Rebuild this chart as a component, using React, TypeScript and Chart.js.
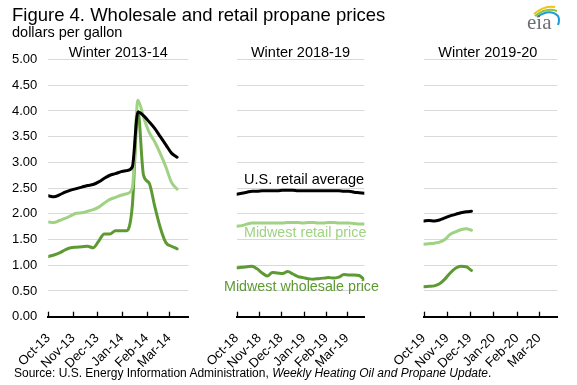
import React, { useEffect, useRef } from "react";
import { Chart, registerables } from "chart.js";

Chart.register(...registerables);

const FONT = '"Liberation Sans", Arial, Helvetica, sans-serif';
const BLACK = "#000000";
const LIGHT_GREEN = "#9fd283";
const DARK_GREEN = "#5e9a33";
const GRID = "#d9d9d9";

// ---------- Data: Winter 2013-14 ----------
const weeks1314 = [
  "2013-10-07", "2013-10-14", "2013-10-21", "2013-10-28",
  "2013-11-04", "2013-11-11", "2013-11-18", "2013-11-25",
  "2013-12-02", "2013-12-09", "2013-12-16", "2013-12-23", "2013-12-30",
  "2014-01-06", "2014-01-13", "2014-01-20", "2014-01-27",
  "2014-02-03", "2014-02-10", "2014-02-17", "2014-02-24",
  "2014-03-03", "2014-03-10", "2014-03-17",
];
const usRetail1314 = [2.35, 2.33, 2.37, 2.42, 2.46, 2.49, 2.52, 2.55, 2.57, 2.62, 2.69, 2.75, 2.78, 2.82, 2.84, 2.91, 3.98, 3.91, 3.79, 3.66, 3.5, 3.34, 3.18, 3.1];
const mwRetail1314 = [1.84, 1.83, 1.87, 1.91, 1.96, 2.01, 2.02, 2.05, 2.08, 2.13, 2.21, 2.28, 2.32, 2.36, 2.39, 2.5, 4.21, 3.88, 3.59, 3.4, 3.17, 2.91, 2.61, 2.48];
const mwWholesale1314 = [1.17, 1.2, 1.24, 1.3, 1.34, 1.35, 1.36, 1.37, 1.34, 1.47, 1.61, 1.61, 1.67, 1.67, 1.67, 2.15, 4.0, 2.75, 2.6, 2.15, 1.73, 1.44, 1.37, 1.32];
const tickDates1314 = ["2013-10-07", "2013-11-07", "2013-12-07", "2014-01-07", "2014-02-07", "2014-03-07"];
const tickLabels1314 = ["Oct-13", "Nov-13", "Dec-13", "Jan-14", "Feb-14", "Mar-14"];

// ---------- Data: Winter 2018-19 ----------
const weeks1819 = [
  "2018-10-01", "2018-10-08", "2018-10-15", "2018-10-22", "2018-10-29",
  "2018-11-05", "2018-11-12", "2018-11-19", "2018-11-26",
  "2018-12-03", "2018-12-10", "2018-12-17", "2018-12-24", "2018-12-31",
  "2019-01-07", "2019-01-14", "2019-01-21", "2019-01-28",
  "2019-02-04", "2019-02-11", "2019-02-18", "2019-02-25",
  "2019-03-04", "2019-03-11", "2019-03-18", "2019-03-25",
];
const usRetail1819 = [2.38, 2.4, 2.42, 2.44, 2.44, 2.45, 2.45, 2.45, 2.45, 2.46, 2.46, 2.46, 2.45, 2.45, 2.45, 2.45, 2.45, 2.45, 2.45, 2.45, 2.45, 2.44, 2.44, 2.42, 2.41, 2.4];
const mwRetail1819 = [1.76, 1.77, 1.8, 1.82, 1.82, 1.82, 1.82, 1.82, 1.82, 1.82, 1.83, 1.83, 1.83, 1.82, 1.83, 1.83, 1.82, 1.82, 1.83, 1.83, 1.82, 1.82, 1.82, 1.81, 1.8, 1.8];
const mwWholesale1819 = [0.95, 0.96, 0.97, 0.98, 0.93, 0.85, 0.79, 0.86, 0.85, 0.84, 0.88, 0.83, 0.78, 0.76, 0.74, 0.73, 0.74, 0.75, 0.76, 0.75, 0.77, 0.82, 0.81, 0.81, 0.8, 0.72];
const tickDates1819 = ["2018-10-01", "2018-11-01", "2018-12-01", "2019-01-01", "2019-02-01", "2019-03-01"];
const tickLabels1819 = ["Oct-18", "Nov-18", "Dec-18", "Jan-19", "Feb-19", "Mar-19"];

// ---------- Data: Winter 2019-20 ----------
const weeks1920 = [
  "2019-10-07", "2019-10-14", "2019-10-21", "2019-10-28",
  "2019-11-04", "2019-11-11", "2019-11-18", "2019-11-25",
  "2019-12-02", "2019-12-09",
];
const usRetail1920 = [1.86, 1.87, 1.86, 1.88, 1.92, 1.96, 1.99, 2.02, 2.04, 2.05];
const mwRetail1920 = [1.41, 1.42, 1.43, 1.45, 1.5, 1.6, 1.65, 1.69, 1.71, 1.68];
const mwWholesale1920 = [0.58, 0.59, 0.6, 0.64, 0.73, 0.85, 0.94, 0.98, 0.97, 0.9];
const tickDates1920 = ["2019-10-07", "2019-11-07", "2019-12-07", "2020-01-07", "2020-02-07", "2020-03-07"];
const tickLabels1920 = ["Oct-19", "Nov-19", "Dec-19", "Jan-20", "Feb-20", "Mar-20"];

const yTicks = [0, 0.5, 1, 1.5, 2, 2.5, 3, 3.5, 4, 4.5, 5];

type Panel = {
  title: string;
  start: string;
  end: string;
  weeks: string[];
  us: number[];
  mwRetail: number[];
  mwWholesale: number[];
  tickDates: string[];
  tickLabels: string[];
  canvasLeft: number;
  canvasWidth: number;
  areaLeft: number;
  areaRight: number;
  showY: boolean;
};

const panels: Panel[] = [
  {
    title: "Winter 2013-14", start: "2013-10-07", end: "2014-03-31",
    weeks: weeks1314, us: usRetail1314, mwRetail: mwRetail1314, mwWholesale: mwWholesale1314,
    tickDates: tickDates1314, tickLabels: tickLabels1314,
    canvasLeft: 0, canvasWidth: 200, areaLeft: 48.3, areaRight: 188.3, showY: true,
  },
  {
    title: "Winter 2018-19", start: "2018-10-01", end: "2019-03-25",
    weeks: weeks1819, us: usRetail1819, mwRetail: mwRetail1819, mwWholesale: mwWholesale1819,
    tickDates: tickDates1819, tickLabels: tickLabels1819,
    canvasLeft: 200, canvasWidth: 190, areaLeft: 236.7, areaRight: 364.3, showY: false,
  },
  {
    title: "Winter 2019-20", start: "2019-10-07", end: "2020-03-31",
    weeks: weeks1920, us: usRetail1920, mwRetail: mwRetail1920, mwWholesale: mwWholesale1920,
    tickDates: tickDates1920, tickLabels: tickLabels1920,
    canvasLeft: 390, canvasWidth: 187, areaLeft: 418.3, areaRight: 557.3, showY: false,
  },
];

const H = 385;
const AREA_TOP = 59.5;
const AREA_BOTTOM = 316.7;

const dayOf = (d: string, start: string) => (Date.parse(d) - Date.parse(start)) / 86400000;

const innerTicks = {
  id: "innerTicks",
  afterDraw(chart: any) {
    const xs = chart.scales.x;
    const ctx = chart.ctx;
    const bottom = chart.chartArea.bottom;
    ctx.save();
    ctx.strokeStyle = "#000";
    ctx.lineWidth = 1.3;
    xs.ticks.forEach((t: any) => {
      const x = Math.round(xs.getPixelForValue(t.value)) + 0.5;
      ctx.beginPath();
      ctx.moveTo(x, bottom);
      ctx.lineTo(x, bottom - 5);
      ctx.stroke();
    });
    ctx.restore();
  },
};

function PanelChart({ p }: { p: Panel }) {
  const ref = useRef<HTMLCanvasElement | null>(null);
  useEffect(() => {
    if (!ref.current) return;
    const toPts = (vals: number[]) => vals.map((v, i) => ({ x: dayOf(p.weeks[i], p.start), y: v }));
    const tickDays = p.tickDates.map((d) => dayOf(d, p.start));
    const endDay = dayOf(p.end, p.start);
    const ds = (label: string, vals: number[], color: string) => ({
      label,
      data: toPts(vals),
      borderColor: color,
      backgroundColor: color,
      borderWidth: 3,
      pointRadius: 0,
      fill: false,
      cubicInterpolationMode: "monotone" as const,
      borderCapStyle: "round" as const,
      borderJoinStyle: "round" as const,
    });
    const chart = new Chart(ref.current, {
      type: "line",
      data: {
        datasets: [
          ds("U.S. retail average", p.us, BLACK),
          ds("Midwest retail price", p.mwRetail, LIGHT_GREEN),
          ds("Midwest wholesale price", p.mwWholesale, DARK_GREEN),
        ],
      },
      options: {
        animation: false,
        responsive: false,
        maintainAspectRatio: false,
        devicePixelRatio: 1,
        events: [],
        layout: {
          padding: {
            left: p.showY ? 0 : p.areaLeft - p.canvasLeft,
            right: p.canvasLeft + p.canvasWidth - p.areaRight,
            top: AREA_TOP,
            bottom: 0,
          },
        },
        plugins: {
          legend: { display: false },
          tooltip: { enabled: false },
          title: { display: false },
        },
        scales: {
          x: {
            type: "linear",
            min: 0,
            max: endDay,
            grid: { display: false },
            border: { display: true, color: "#000", width: 2 },
            afterBuildTicks: (s: any) => {
              s.ticks = tickDays.map((v) => ({ value: v }));
            },
            afterFit: (s: any) => {
              s.height = H - AREA_BOTTOM;
            },
            ticks: {
              autoSkip: false,
              maxRotation: 45,
              minRotation: 45,
              color: "#000",
              padding: 6,
              font: { family: FONT, size: 13 },
              callback: (_v: any, i: number) => p.tickLabels[i],
            },
          },
          y: {
            min: 0,
            max: 5,
            afterBuildTicks: (s: any) => {
              s.ticks = yTicks.map((v) => ({ value: v }));
            },
            afterFit: (s: any) => {
              s.width = p.showY ? p.areaLeft : 0;
            },
            grid: { color: GRID, lineWidth: 1, drawTicks: false },
            border: { display: false },
            ticks: {
              display: p.showY,
              padding: 11,
              color: "#000",
              font: { family: FONT, size: 13 },
              callback: (v: any) => Number(v).toFixed(2),
            },
          },
        },
      },
      plugins: [innerTicks],
    });
    return () => chart.destroy();
  }, [p]);
  return (
    <canvas
      ref={ref}
      width={p.canvasWidth}
      height={H}
      style={{ position: "absolute", left: p.canvasLeft, top: 0, width: p.canvasWidth, height: H }}
    />
  );
}

function Txt({
  x, baseline, size, color = "#000", children, width, align = "left", italic = false,
}: {
  x: number; baseline: number; size: number; color?: string; children: React.ReactNode;
  width?: number; align?: "left" | "center"; italic?: boolean;
}) {
  return (
    <div
      style={{
        position: "absolute",
        left: x,
        top: baseline - 0.8465 * size,
        width: width,
        textAlign: align,
        fontFamily: FONT,
        fontSize: size,
        lineHeight: `${size}px`,
        color,
        whiteSpace: "nowrap",
        fontStyle: italic ? "italic" : "normal",
      }}
    >
      {children}
    </div>
  );
}

function Logo() {
  return (
    <svg width={40} height={34} viewBox="0 0 40 34" style={{ position: "absolute", left: 522, top: 2 }}>
      <path d="M12 12 Q22 3 33 5" stroke="#f2c21b" strokeWidth={2} fill="none" />
      <path d="M13 14 Q24 5 35 9" stroke="#8cc63f" strokeWidth={2} fill="none" />
      <path d="M15 15 Q28 6 36 14 Q38 18 36 23" stroke="#1d9ad6" strokeWidth={2} fill="none" />
      <text x={5} y={27} fontFamily='"Liberation Serif", "DejaVu Serif", serif' fontSize={21} fill="#6d6e71">
        eia
      </text>
    </svg>
  );
}

export default function App() {
  return (
    <div
      style={{
        position: "absolute",
        left: 0,
        top: 0,
        width: 577,
        height: H,
        background: "#fff",
        overflow: "hidden",
      }}
    >
      {panels.map((p) => (
        <PanelChart key={p.title} p={p} />
      ))}
      <Txt x={12} baseline={22} size={18.5}>Figure 4. Wholesale and retail propane prices</Txt>
      <Txt x={12} baseline={37.3} size={14.5}>dollars per gallon</Txt>
      {panels.map((p) => (
        <Txt key={"t" + p.title} x={p.areaLeft - 20} width={p.areaRight - p.areaLeft + 40} align="center" baseline={57} size={14.5}>
          {p.title}
        </Txt>
      ))}
      <Txt x={244} baseline={184} size={14.5} color={BLACK}>U.S. retail average</Txt>
      <Txt x={244} baseline={237.5} size={14.3} color={LIGHT_GREEN}>Midwest retail price</Txt>
      <Txt x={224} baseline={291.5} size={14.3} color={DARK_GREEN}>Midwest wholesale price</Txt>
      <Txt x={14} baseline={377} size={12}>
        Source: U.S. Energy Information Administration, <i>Weekly Heating Oil and Propane Update</i>.
      </Txt>
      <Logo />
    </div>
  );
}
